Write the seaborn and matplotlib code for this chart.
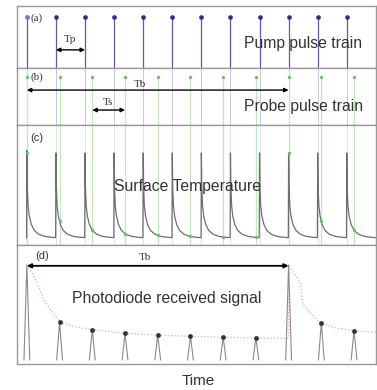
import numpy as np
import pandas as pd
import matplotlib
matplotlib.use("Agg")
import matplotlib.pyplot as plt
import seaborn as sns

# ---------------- data ----------------
pump_times = [0, 1, 2, 3, 4, 5, 6, 7, 8, 9, 10, 11]
probe_times = [0, 1.125, 2.25, 3.375, 4.5, 5.625, 6.75, 7.875, 9.0, 10.125, 11.25]
pump_level = 0.82
probe_level = 0.84

# surface temperature decay profile after each pump pulse (delay in pump periods)
decay_delay = [0.0, 0.015, 0.04, 0.08, 0.15, 0.25, 0.4, 0.6, 0.8, 0.99]
decay_height = [1.0, 0.6, 0.38, 0.26, 0.16, 0.09, 0.045, 0.02, 0.01, 0.005]
pulse_peak = [1.03, 1, 1, 1, 1, 1, 1, 1, 1, 1, 1, 1]

# photodiode sampled peaks (one per probe pulse)
diode_peak = [1.0, 0.40, 0.32, 0.28, 0.26, 0.25, 0.24, 0.23, 1.0, 0.39, 0.31]
# envelope
env_t = [0, 0.28, 0.62, 0.97, 1.125, 1.66, 2.25, 3.375, 4.5, 5.625, 6.75, 7.875, 9.0,
         9.0, 9.4, 9.5, 10.07, 10.6, 11.17, 12.0]
env_y = [1.0, 0.86, 0.61, 0.47, 0.40, 0.35, 0.32, 0.28, 0.26, 0.25, 0.24, 0.23, 0.23,
         1.0, 0.81, 0.58, 0.39, 0.34, 0.31, 0.29]

# ---------------- style ----------------
sns.set_style("white")
plt.rcParams['font.family'] = ['Liberation Sans', 'DejaVu Sans']

pump_col = "#5b5ba8"
pump_dot = "#2e2e80"
pump_faint = "#c8c8dc"
probe_col = "#c4e6be"
probe_dot = "#6cc06c"
curve_col = "#6e6e6e"
spine_col = "#9a9a9a"
txt_col = "#333333"

fig = plt.figure(figsize=(3.77, 3.90), dpi=100)
gs = fig.add_gridspec(4, 1, height_ratios=[62, 57, 120, 119], hspace=0,
                      left=0.045, right=0.997, top=0.985, bottom=0.067)
axes = [fig.add_subplot(gs[i]) for i in range(4)]
xlim = (-0.34, 12.0)

ax_a, ax_b, ax_c, ax_d = axes

# ---------- (a) pump pulse train ----------
ax_a.set_ylim(0, 1)
ax_a.vlines(pump_times, 0, pump_level, color=pump_col, lw=0.9)
sns.scatterplot(x=pump_times[1:], y=[pump_level] * (len(pump_times) - 1), ax=ax_a,
                color=pump_dot, s=9, edgecolor=pump_dot, linewidth=0.3, zorder=3)
ax_a.plot([0], [pump_level], 'o', ms=2.5, color="#7a7ab8", zorder=3)
ax_a.text(0.12, 0.80, "(a)", fontsize=8, color=txt_col, va='center', ha='left',
          family=['Liberation Serif', 'DejaVu Serif'])
ax_a.annotate("", xy=(1, 0.29), xytext=(2, 0.29),
              arrowprops=dict(arrowstyle='<|-|>', color='black', lw=1.0, mutation_scale=6,
                              shrinkA=0, shrinkB=0))
ax_a.text(1.5, 0.45, "Tp", fontsize=8, color=txt_col, ha='center', va='center',
          family=['Liberation Serif', 'DejaVu Serif'])
ax_a.text(7.45, 0.40, "Pump pulse train", fontsize=11.3, color=txt_col, ha='left', va='center')

# ---------- (b) probe pulse train ----------
ax_b.set_ylim(0, 1)
ax_b.vlines(pump_times, 0, 1, color=pump_faint, lw=0.7)
ax_b.vlines(probe_times, 0, probe_level, color=probe_col, lw=0.9)
sns.scatterplot(x=probe_times, y=[probe_level] * len(probe_times), ax=ax_b,
                color=probe_dot, s=5, edgecolor=probe_dot, linewidth=0.2, zorder=3)
ax_b.text(0.12, 0.83, "(b)", fontsize=8, color=txt_col, va='center', ha='left',
          family=['Liberation Serif', 'DejaVu Serif'])
ax_b.annotate("", xy=(0, 0.61), xytext=(9, 0.61),
              arrowprops=dict(arrowstyle='<|-|>', color='black', lw=1.0, mutation_scale=6,
                              shrinkA=0, shrinkB=0))
ax_b.text(3.9, 0.70, "Tb", fontsize=8, color=txt_col, ha='center', va='center',
          family=['Liberation Serif', 'DejaVu Serif'])
ax_b.annotate("", xy=(2.25, 0.26), xytext=(3.375, 0.26),
              arrowprops=dict(arrowstyle='<|-|>', color='black', lw=1.0, mutation_scale=6,
                              shrinkA=0, shrinkB=0))
ax_b.text(2.8, 0.40, "Ts", fontsize=8, color=txt_col, ha='center', va='center',
          family=['Liberation Serif', 'DejaVu Serif'])
ax_b.text(7.45, 0.32, "Probe pulse train", fontsize=11.3, color=txt_col, ha='left', va='center')

# ---------- (c) surface temperature ----------
ax_c.set_ylim(-0.08, 1.33)
ax_c.vlines(pump_times, -0.08, 1.33, color=pump_faint, lw=0.6, alpha=0.6)
ax_c.vlines(probe_times, -0.08, 1.33, color=probe_col, lw=0.9)
temp_t = [-0.01]
temp_y = [0.0]
for p, pk in zip(pump_times, pulse_peak):
    temp_t += [p + d for d in decay_delay]
    temp_y += [pk * h for h in decay_height]
temp_df = pd.DataFrame({"t": temp_t, "T": temp_y})
sns.lineplot(data=temp_df, x="t", y="T", ax=ax_c, color=curve_col, lw=0.9,
             sort=False, estimator=None)
samp_y = [np.interp(pt % 1.0, decay_delay, decay_height) for pt in probe_times]
sns.scatterplot(x=probe_times, y=samp_y, ax=ax_c, color=probe_dot, s=5,
                edgecolor=probe_dot, linewidth=0.2, zorder=3)
ax_c.text(0.12, 1.18, "(c)", fontsize=8, color=txt_col, va='center', ha='left')
ax_c.text(3.0, 0.61, "Surface Temperature", fontsize=11.3, color=txt_col, ha='left', va='center')

# ---------- (d) photodiode received signal ----------
ax_d.set_ylim(-0.04, 1.21)
env_df = pd.DataFrame({"t": env_t, "y": env_y})
sns.lineplot(data=env_df, x="t", y="y", ax=ax_d, color="#e6a8b0", lw=0.9,
             linestyle=':', sort=False, estimator=None)
spk_t, spk_y, spk_u = [], [], []
for i, (pt, h) in enumerate(zip(probe_times, diode_peak)):
    spk_t += [pt - 0.1, pt, pt + 0.1]
    spk_y += [0, h, 0]
    spk_u += [i, i, i]
spk_df = pd.DataFrame({"t": spk_t, "y": spk_y, "u": spk_u})
sns.lineplot(data=spk_df, x="t", y="y", units="u", ax=ax_d, color="#8a8a8a", lw=0.8,
             sort=False, estimator=None)
sns.scatterplot(x=probe_times[1:8] + probe_times[9:], y=diode_peak[1:8] + diode_peak[9:],
                ax=ax_d, color="#333333", s=10, edgecolor="#333333", linewidth=0.3, zorder=3)
ax_d.annotate("", xy=(0, 0.99), xytext=(9, 0.99),
              arrowprops=dict(arrowstyle='<|-|>', color='black', lw=1.3, mutation_scale=6,
                              shrinkA=0, shrinkB=0))
ax_d.text(4.07, 1.08, "Tb", fontsize=8, color=txt_col, ha='center', va='center',
          family=['Liberation Serif', 'DejaVu Serif'])
ax_d.text(0.28, 1.09, "(d)", fontsize=8, color=txt_col, va='center', ha='left')
ax_d.text(1.55, 0.65, "Photodiode received signal", fontsize=11.3, color=txt_col,
          ha='left', va='center')

# ---------- common axis styling ----------
for ax in axes:
    ax.set_xlim(*xlim)
    for s in ax.spines.values():
        s.set_color(spine_col)
        s.set_linewidth(1.0)
    ax.set_xticks(np.arange(0, 12.1, 2))
    ax.tick_params(axis='x', direction='in', length=2.5, color=spine_col, labelbottom=False)
    ax.tick_params(axis='y', direction='out', length=2.5, color=spine_col, labelleft=False)
    ax.set_xlabel("")
    ax.set_ylabel("")
ax_a.set_yticks([])
ax_b.set_yticks([])
ax_c.set_yticks([0, 0.38, 0.76, 1.13])
ax_d.set_yticks([0.24, 0.52, 0.80, 1.08])

fig.text(0.525, 0.022, "Time", fontsize=11, color=txt_col, ha='center', va='center')

fig.savefig("out.png", dpi=100, facecolor='white')
